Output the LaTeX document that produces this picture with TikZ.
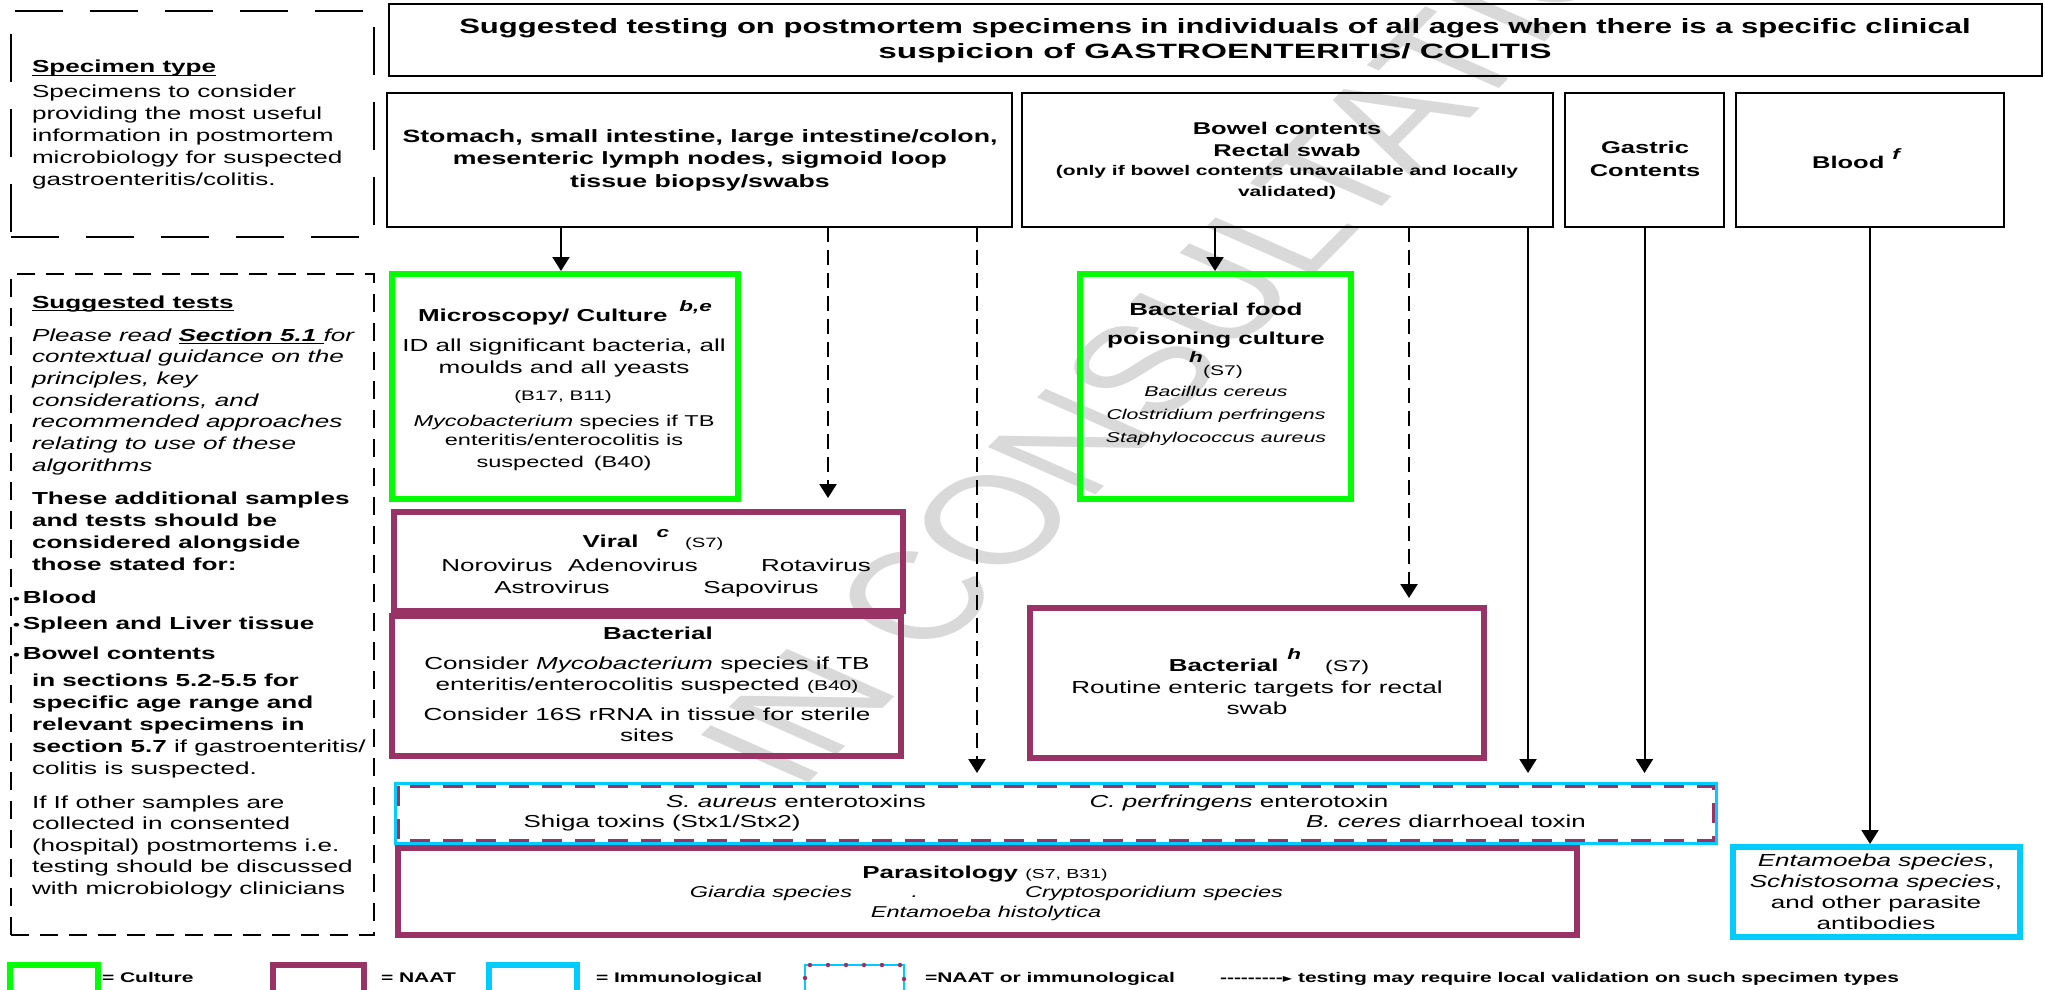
\documentclass[tikz,border=0pt]{standalone}
\usepackage{fontspec}
\usepackage{graphicx}
\setmainfont{Liberation Sans}[FakeStretch=1.5]
\newfontfamily\symfont{DejaVu Sans}
\newfontfamily\wmfont{Liberation Sans}
\usetikzlibrary{arrows.meta,calc}

\definecolor{cgreen}{RGB}{0,255,0}
\definecolor{cplum}{RGB}{153,51,102}
\definecolor{ccyan}{RGB}{0,204,255}
\definecolor{cwater}{RGB}{217,217,217}

\newcommand\fs[2]{\fontsize{#1pt}{#2pt}\selectfont}
% underlined text with a heavier rule
\newcommand\ulx[1]{\leavevmode\setbox0=\hbox{#1}\rlap{\vrule height -1.8pt depth 3.4pt width \wd0}\box0}
% stacked lines whose baseline is the first line
\newcommand\ctab[1]{\begin{tabular}[t]{@{}c@{}}#1\end{tabular}}
\newcommand\ltab[1]{\begin{tabular}[t]{@{}l@{}}#1\end{tabular}}
% box from corner (x1,y1) to (x2,y2): style, name, x1, y1, x2, y2
\newcommand\rbox[6]{%
  \node[#1, minimum width={(#5)-(#3)}, minimum height={(#6)-(#4)}] (#2)
    at ({((#3)+(#5))/2},{((#4)+(#6))/2}) {};}

\tikzset{
  plain/.style={rectangle, inner sep=0pt, outer sep=0pt},
  specbox/.style={plain, draw=black, line width=2.5pt},
  culbox/.style={plain, draw=cgreen, line width=6pt},
  naatbox/.style={plain, draw=cplum, line width=6pt},
  immbox/.style={plain, draw=ccyan, line width=6pt},
  notebox/.style={plain, draw=black, line width=2.5pt, dash pattern=on 48pt off 27pt},
  txt/.style={inner sep=0pt, outer sep=0pt, anchor=base},
  ltxt/.style={inner sep=0pt, outer sep=0pt, anchor=base west},
  flow/.style={line width=2pt, -{Triangle[length=14pt,width=17pt]}},
  dflow/.style={flow, line width=2.4pt, dash pattern=on 15pt off 8pt},
}

\begin{document}
\begin{tikzpicture}[x=1pt,y=-1pt]
\useasboundingbox (0,0) rectangle (2045,990);

% ---------- background watermark ----------
\begin{scope}[xscale=1.5]
  \node[transform shape, rotate=56.5, anchor=base west, inner sep=0pt, text=cwater,
        font=\wmfont\fontsize{125pt}{125pt}\selectfont] (wm) at (533,793) {IN CONSULTATION};
\end{scope}

% ---------- boxes ----------
\rbox{notebox}{spec}{11}{11}{374}{237}
\rbox{notebox, dash pattern=on 18pt off 11pt}{tests}{11}{274}{374}{935}
\rbox{specbox}{title}{389}{4}{2042}{76}
\rbox{specbox}{stomach}{387}{93}{1012}{227}
\rbox{specbox}{bowel}{1022}{93}{1553}{227}
\rbox{specbox}{gastric}{1565}{93}{1724}{227}
\rbox{specbox}{blood}{1736}{93}{2004}{227}
\rbox{culbox}{micro}{392}{274}{738}{499}
\rbox{culbox}{food}{1080}{274}{1351}{499}
\rbox{naatbox}{viral}{394}{512}{903}{611}
\rbox{naatbox}{bactL}{392}{616}{901}{756}
\rbox{naatbox}{bactH}{1030}{608}{1484}{758}
\rbox{plain, draw=ccyan, line width=3pt}{tox}{395}{783}{1716}{843}
\draw[cplum, line width=3pt, dash pattern=on 20pt off 13pt]
  ([shift={(3,3)}]tox.north west) rectangle ([shift={(-3,-3)}]tox.south east);
\rbox{naatbox}{para}{398}{848}{1577}{935}
\rbox{immbox}{ent}{1733}{847}{2020}{937}

% ---------- left-hand notes ----------
\node[ltxt, font=\fs{17.4}{21.8}] (spec-t) at (32,73)
  {\ltab{\textbf{\ulx{Specimen type}}\\[3pt]
   Specimens to consider\\ providing the most useful\\ information in postmortem\\
   microbiology for suspected\\ gastroenteritis/colitis.}};

\node[ltxt, font=\fs{17.4}{21.7}\bfseries] (tests-h) at (32,308) {\ulx{Suggested tests}};
\node[ltxt, font=\fs{17.4}{21.7}\itshape] (tests-i) at (32,341)
  {\ltab{Please read \textbf{\ulx{Section 5.1 }}for\\ contextual guidance on the\\
   principles, key\\ considerations, and\\ recommended approaches\\
   relating to use of these\\ algorithms}};
\node[ltxt, font=\fs{17.4}{22.3}\bfseries] (tests-b) at (32,504)
  {\ltab{These additional samples\\ and tests should be\\ considered alongside\\ those stated for:}};
\node[ltxt, font=\fs{17.4}{20}\bfseries] (bul1) at (13,603) {{\fs{13}{13}\textbullet}\hspace{3pt}Blood};
\node[ltxt, font=\fs{17.4}{20}\bfseries] (bul2) at (13,629) {{\fs{13}{13}\textbullet}\hspace{3pt}Spleen and Liver tissue};
\node[ltxt, font=\fs{17.4}{20}\bfseries] (bul3) at (13,659) {{\fs{13}{13}\textbullet}\hspace{3pt}Bowel contents};
\node[ltxt, font=\fs{17.4}{22}] (tests-c) at (32,686)
  {\ltab{\textbf{in sections 5.2-5.5 for}\\ \textbf{specific age range and}\\
   \textbf{relevant specimens in}\\ \textbf{section 5.7} if gastroenteritis/\\
   colitis is suspected.}};
\node[ltxt, font=\fs{17.4}{21.5}] (tests-d) at (32,808)
  {\ltab{If If other samples are\\ collected in consented\\ (hospital) postmortems i.e.\\
   testing should be discussed\\ with microbiology clinicians}};

% ---------- headings ----------
\node[txt, font=\fs{20.7}{25.5}\bfseries] (title-t) at (1215,33.5)
  {\ctab{Suggested testing on postmortem specimens in individuals of all ages when there is a specific clinical\\
   \scalebox{1.075}[1]{suspicion of GASTROENTERITIS/ COLITIS}}};
\node[txt, font=\fs{17.8}{22.5}\bfseries] (stomach-t) at (700,142)
  {\ctab{Stomach, small intestine, large intestine/colon,\\ mesenteric lymph nodes, sigmoid loop\\ tissue biopsy/swabs}};
\node[txt, font=\fs{17}{22}\bfseries] (bowel-t) at (1287,134) {\ctab{Bowel contents\\ Rectal swab}};
\node[txt, font=\fs{14}{21}\bfseries] (bowel-n) at (1287,175)
  {\ctab{(only if bowel contents unavailable and locally\\ validated)}};
\node[txt, font=\fs{17}{23}\bfseries] (gastric-t) at (1645,153) {\ctab{Gastric\\ Contents}};
\node[txt, font=\fs{17}{23}\bfseries] (blood-t) at (1856,168)
  {Blood\hspace{8pt}\raisebox{9pt}{\fs{15}{15}\itshape f}};

% ---------- microscopy / culture ----------
\node[txt, font=\fs{17.3}{20}\bfseries] (micro-h) at (565,321)
  {Microscopy/ Culture\hspace{12pt}\raisebox{10pt}{\fs{15}{15}\itshape b,e}};
\node[txt, font=\fs{17.4}{22}] (micro-t) at (564,351) {\ctab{ID all significant bacteria, all\\ moulds and all yeasts}};
\node[txt, font=\fs{13.8}{14}] (micro-r) at (563,400) {(B17, B11)};
\node[txt, font=\fs{15.7}{19}] (micro-m) at (564,426)
  {\ctab{\textit{Mycobacterium} species if TB\\ enteritis/enterocolitis is\\[3pt] suspected\hspace{10pt}(B40)}};

% ---------- viral ----------
\node[txt, font=\fs{17.3}{20}] (viral-h) at (653,547)
  {\textbf{Viral}\hspace{18pt}\raisebox{10pt}{\fs{15}{15}\bfseries\itshape c}\hspace{16pt}{\fs{13.5}{14}(S7)}};
\node[txt, font=\fs{17.3}{20}] (v-noro) at (497,571) {Norovirus};
\node[txt, font=\fs{17.3}{20}] (v-adeno) at (633,571) {Adenovirus};
\node[txt, font=\fs{17.3}{20}] (v-rota) at (816,571) {Rotavirus};
\node[txt, font=\fs{17.3}{20}] (v-astro) at (552,593) {Astrovirus};
\node[txt, font=\fs{17.3}{20}] (v-sapo) at (761,593) {Sapovirus};

% ---------- bacterial (tissue) ----------
\node[txt, font=\fs{17.3}{20}\bfseries] (bactL-h) at (658,639) {Bacterial};
\node[txt, font=\fs{17.4}{21}] (bactL-t) at (647,669)
  {\ctab{Consider \textit{Mycobacterium} species if TB\\ enteritis/enterocolitis suspected {\fs{14}{14}(B40)}\\[9pt]
   Consider 16S rRNA in tissue for sterile\\ sites}};

% ---------- bacterial food poisoning ----------
\node[txt, font=\fs{17.3}{29}\bfseries] (food-h) at (1216,315) {\ctab{Bacterial food\\ poisoning culture}};
\node[txt, font=\fs{15}{15}\bfseries\itshape] (food-sup) at (1196,362) {h};
\node[txt, font=\fs{14}{14}] (food-ref) at (1223,375) {(S7)};
\node[txt, font=\fs{14.2}{23}\itshape] (food-t) at (1216,396)
  {\ctab{Bacillus cereus\\ Clostridium perfringens\\ Staphylococcus aureus}};

% ---------- bacterial (rectal swab) ----------
\node[txt, font=\fs{17.3}{20}] (bactH-h) at (1269,671)
  {\textbf{Bacterial}\hspace{9pt}\raisebox{12pt}{\fs{15}{15}\bfseries\itshape h}\hspace{24pt}{\fs{15.5}{16}(S7)}};
\node[txt, font=\fs{17.4}{21}] (bactH-t) at (1257,693) {\ctab{Routine enteric targets for rectal\\ swab}};

% ---------- toxins ----------
\node[txt, font=\fs{17.3}{20}] (tox-a) at (796,807) {\textit{S. aureus} enterotoxins};
\node[txt, font=\fs{17.3}{20}] (tox-c) at (1239,807) {\textit{C. perfringens} enterotoxin};
\node[txt, font=\fs{17.3}{20}] (tox-s) at (662,827) {Shiga toxins (Stx1/Stx2)};
\node[txt, font=\fs{17.3}{20}] (tox-b) at (1446,827) {\textit{B. ceres} diarrhoeal toxin};

% ---------- parasitology ----------
\node[txt, font=\fs{17.3}{20}] (para-h) at (985,878) {\textbf{Parasitology} {\fs{13}{14}(S7, B31)}};
\node[txt, font=\fs{15.7}{18}\itshape] (p-giar) at (771,897) {Giardia species};
\node[txt, font=\fs{15.7}{18}\itshape] (p-dot) at (915,897) {.};
\node[txt, font=\fs{15.7}{18}\itshape] (p-cryp) at (1154,897) {Cryptosporidium species};
\node[txt, font=\fs{15.7}{18}\itshape] (p-ent) at (986,917) {Entamoeba histolytica};

% ---------- serology ----------
\node[txt, font=\fs{17.4}{21.3}] (ent-t) at (1876,866)
  {\ctab{\textit{Entamoeba species},\\ \textit{Schistosoma species},\\ and other parasite\\ antibodies}};

% ---------- connectors ----------
\coordinate (xa1) at (561,0);
\coordinate (xa2) at (828,0);
\coordinate (xa3) at (977,0);
\coordinate (xa4) at (1215,0);
\coordinate (xa5) at (1409,0);
\coordinate (xa6) at (1528,0);
\draw[flow, shorten >=3pt] (stomach.south -| xa1) -- (micro.north -| xa1);
\draw[dflow, shorten >=14pt] (stomach.south -| xa2) -- (viral.north -| xa2);
\draw[dflow, shorten >=10pt] (stomach.south -| xa3) -- (tox.north -| xa3);
\draw[flow, shorten >=3pt] (bowel.south -| xa4) -- (food.north -| xa4);
\draw[dflow, shorten >=10pt] (bowel.south -| xa5) -- (bactH.north -| xa5);
\draw[flow, shorten >=10pt] (bowel.south -| xa6) -- (tox.north -| xa6);
\draw[flow, shorten >=10pt] (gastric.south) -- (tox.north -| gastric.south);
\draw[flow, shorten >=3pt] (blood.south) -- (ent.north -| blood.south);

% ---------- key ----------
\rbox{culbox}{key-cul}{10}{965}{98}{996}
\rbox{naatbox}{key-naat}{273}{965}{364}{996}
\rbox{immbox}{key-imm}{489}{965}{577}{996}
\rbox{plain, draw=ccyan, line width=2pt}{key-both}{805}{965}{904}{996}
\draw[cplum, line width=4.5pt, line cap=round, dash pattern=on 0pt off 18pt]
  (key-both.south west) -- (key-both.north west) -- (key-both.north east) -- (key-both.south east);
\node[ltxt, font=\fs{14}{14}\bfseries] (key-cul-t) at (102,982) {= Culture};
\node[ltxt, font=\fs{14}{14}\bfseries] (key-naat-t) at (381,982) {= NAAT};
\node[ltxt, font=\fs{14}{14}\bfseries] (key-imm-t) at (596,982) {= Immunological};
\node[ltxt, font=\fs{14}{14}\bfseries] (key-both-t) at (925,982) {=NAAT or immunological};
\node[ltxt, font=\fs{14}{14}\bfseries] (key-val-t) at (1220,982)
  {-{}-{}-{}-{}-{}-{}-{}-{}-{\symfont\fs{12}{12}►} testing may require local validation on such specimen types};
\end{tikzpicture}
\end{document}
